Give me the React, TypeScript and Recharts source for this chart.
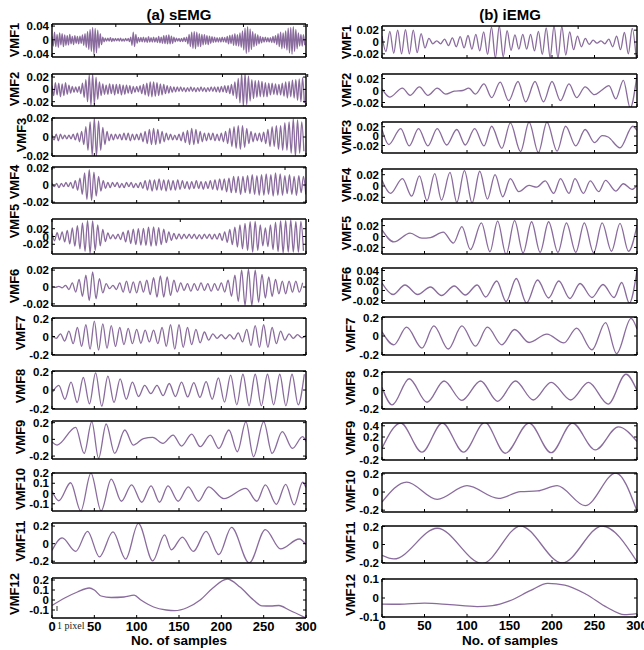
import React from "react";
import { LineChart, Line, XAxis, YAxis } from "recharts";

// ---------- shared axis values ----------
const SAMPLE_TICKS = [0, 50, 100, 150, 200, 250, 300];
const FONT = '"Liberation Sans", Arial, Helvetica, sans-serif';
const TRACE = "#8a6b9d";

// ---------- (a) sEMG : dense modes, successive extrema at a fixed sample spacing ----------
const SEMG_VMF1_STEP = 1.5;
const SEMG_VMF1 = [
  0.01, -0.018, 0.022, -0.02, 0.016, -0.022, 0.02, -0.015, 0.018, -0.02,
  0.014, -0.016, 0.012, -0.015, 0.016, -0.012, 0.01, -0.014, 0.012, -0.01,
  0.01, -0.012, 0.011, -0.01, 0.014, -0.016, 0.018, -0.022, 0.024, -0.028,
  0.03, -0.034, 0.036, -0.042, 0.033, -0.038, 0.028, -0.024, 0.018, -0.014,
  0.008, -0.006, 0.005, -0.004, 0.005, -0.004, 0.006, -0.005, 0.004, -0.004,
  0.004, -0.003, 0.004, -0.004, 0.005, -0.004, 0.003, -0.004, 0.004, -0.003,
  0.004, -0.005, 0.008, -0.016, 0.022, -0.02, 0.016, -0.01, 0.007, -0.006,
  0.007, -0.006, 0.008, -0.007, 0.006, -0.008, 0.009, -0.007, 0.006, -0.007,
  0.008, -0.007, 0.006, -0.008, 0.01, -0.009, 0.008, -0.01, 0.012, -0.011,
  0.013, -0.012, 0.014, -0.012, 0.011, -0.01, 0.008, -0.006, 0.005, -0.004,
  0.004, -0.005, 0.004, -0.005, 0.006, -0.005, 0.008, -0.012, 0.016, -0.02,
  0.022, -0.025, 0.024, -0.026, 0.022, -0.02, 0.018, -0.02, 0.016, -0.015,
  0.015, -0.013, 0.012, -0.014, 0.011, -0.01, 0.009, -0.008, 0.008, -0.007,
  0.006, -0.007, 0.006, -0.007, 0.008, -0.006, 0.007, -0.008, 0.01, -0.012,
  0.013, -0.011, 0.014, -0.016, 0.018, -0.017, 0.015, -0.018, 0.02, -0.022,
  0.026, -0.03, 0.034, -0.04, 0.038, -0.036, 0.032, -0.028, 0.024, -0.02,
  0.018, -0.016, 0.014, -0.012, 0.01, -0.009, 0.008, -0.007, 0.008, -0.006,
  0.006, -0.007, 0.006, -0.008, 0.01, -0.009, 0.012, -0.014, 0.018, -0.02,
  0.022, -0.026, 0.02, -0.024, 0.026, -0.03, 0.034, -0.038, 0.036, -0.042,
  0.038, -0.034, 0.03, -0.026, 0.02, -0.018, 0.016, -0.018, 0.015, -0.016,
];

const SEMG_VMF2_STEP = 2;
const SEMG_VMF2 = [
  0.006, -0.01, 0.011, -0.009, 0.01, -0.012, 0.009, -0.01, 0.011, -0.008,
  0.007, -0.006, 0.005, -0.005, 0.004, -0.005, 0.005, -0.007, 0.01, -0.013,
  0.016, -0.02, 0.024, -0.026, 0.025, -0.024, 0.02, -0.016, 0.012, -0.01,
  0.009, -0.008, 0.007, -0.008, 0.009, -0.007, 0.008, -0.009, 0.008, -0.007,
  0.008, -0.009, 0.007, -0.008, 0.007, -0.006, 0.006, -0.007, 0.005, -0.005,
  0.005, -0.004, 0.006, -0.007, 0.008, -0.009, 0.01, -0.011, 0.012, -0.012,
  0.012, -0.011, 0.011, -0.01, 0.009, -0.009, 0.008, -0.007, 0.006, -0.006,
  0.005, -0.005, 0.004, -0.004, 0.004, -0.003, 0.004, -0.003, 0.003, -0.004,
  0.003, -0.003, 0.004, -0.003, 0.003, -0.004, 0.003, -0.003, 0.004, -0.003,
  0.003, -0.004, 0.003, -0.003, 0.004, -0.003, 0.004, -0.004, 0.004, -0.005,
  0.005, -0.004, 0.006, -0.005, 0.006, -0.007, 0.008, -0.01, 0.012, -0.015,
  0.018, -0.022, 0.025, -0.027, 0.026, -0.025, 0.022, -0.019, 0.016, -0.015,
  0.014, -0.013, 0.014, -0.012, 0.013, -0.012, 0.011, -0.012, 0.01, -0.009,
  0.01, -0.008, 0.009, -0.009, 0.008, -0.009, 0.01, -0.011, 0.012, -0.014,
  0.013, -0.012, 0.015, -0.014, 0.016, -0.018, 0.017, -0.02, 0.019, -0.022,
];

const SEMG_VMF3_STEP = 2.5;
const SEMG_VMF3 = [
  0.002, -0.003, 0.003, -0.004, 0.003, -0.002, 0.002, -0.002, 0.002, -0.002,
  0.003, -0.003, 0.004, -0.005, 0.006, -0.008, 0.011, -0.014, 0.016, -0.019,
  0.02, -0.02, 0.017, -0.014, 0.01, -0.008, 0.006, -0.004, 0.003, -0.003,
  0.003, -0.002, 0.003, -0.003, 0.004, -0.003, 0.004, -0.004, 0.003, -0.003,
  0.003, -0.003, 0.004, -0.005, 0.006, -0.007, 0.008, -0.008, 0.009, -0.008,
  0.008, -0.007, 0.006, -0.005, 0.004, -0.003, 0.003, -0.003, 0.002, -0.003,
  0.003, -0.004, 0.005, -0.006, 0.007, -0.008, 0.009, -0.008, 0.008, -0.007,
  0.006, -0.005, 0.004, -0.004, 0.004, -0.003, 0.004, -0.004, 0.003, -0.004,
  0.004, -0.005, 0.006, -0.007, 0.009, -0.01, 0.011, -0.012, 0.012, -0.013,
  0.012, -0.011, 0.009, -0.007, 0.006, -0.005, 0.004, -0.004, 0.004, -0.005,
  0.005, -0.007, 0.008, -0.01, 0.011, -0.01, 0.012, -0.013, 0.012, -0.014,
  0.015, -0.014, 0.016, -0.017, 0.019, -0.02, 0.018, -0.017, 0.016, -0.015,
];

const SEMG_VMF4_STEP = 2.75;
const SEMG_VMF4 = [
  0.002, -0.002, 0.002, -0.003, 0.002, -0.002, 0.003, -0.002, 0.003, -0.004,
  0.005, -0.006, 0.008, -0.011, 0.014, -0.017, 0.018, -0.018, 0.015, -0.013,
  0.01, -0.007, 0.005, -0.004, 0.003, -0.003, 0.003, -0.002, 0.003, -0.003,
  0.002, -0.003, 0.003, -0.002, 0.003, -0.003, 0.002, -0.003, 0.003, -0.004,
  0.005, -0.006, 0.006, -0.007, 0.006, -0.006, 0.007, -0.006, 0.006, -0.007,
  0.006, -0.006, 0.005, -0.006, 0.006, -0.005, 0.005, -0.004, 0.004, -0.005,
  0.004, -0.004, 0.005, -0.004, 0.004, -0.005, 0.004, -0.004, 0.005, -0.005,
  0.006, -0.006, 0.007, -0.006, 0.007, -0.008, 0.008, -0.009, 0.01, -0.009,
  0.01, -0.011, 0.01, -0.009, 0.011, -0.01, 0.012, -0.011, 0.011, -0.012,
  0.012, -0.012, 0.013, -0.011, 0.012, -0.013, 0.014, -0.012, 0.013, -0.012,
  0.011, -0.01, 0.012, -0.011, 0.01, -0.012, 0.011, -0.009, 0.01, -0.011,
];

const SEMG_VMF5_STEP = 3;
const SEMG_VMF5 = [
  0.008, -0.011, 0.01, -0.009, 0.012, -0.014, 0.016, -0.019, 0.022, -0.025,
  0.028, -0.032, 0.035, -0.038, 0.041, -0.043, 0.04, -0.036, 0.03, -0.024,
  0.018, -0.013, 0.009, -0.006, 0.005, -0.006, 0.006, -0.008, 0.011, -0.014,
  0.016, -0.018, 0.019, -0.021, 0.02, -0.022, 0.021, -0.023, 0.024, -0.025,
  0.025, -0.024, 0.023, -0.021, 0.019, -0.016, 0.012, -0.01, 0.008, -0.007,
  0.007, -0.006, 0.006, -0.005, 0.006, -0.005, 0.006, -0.006, 0.005, -0.006,
  0.006, -0.005, 0.006, -0.007, 0.006, -0.007, 0.008, -0.01, 0.012, -0.015,
  0.018, -0.021, 0.024, -0.027, 0.03, -0.032, 0.034, -0.036, 0.038, -0.04,
  0.039, -0.036, 0.03, -0.024, 0.022, -0.026, 0.03, -0.034, 0.037, -0.039,
  0.04, -0.042, 0.041, -0.04, 0.042, -0.04, 0.038, -0.04, 0.039, -0.037,
];

const SEMG_VMF6_STEP = 4;
const SEMG_VMF6 = [
  0.0005, -0.0005, 0.0008, -0.001, 0.002, -0.003, 0.005, -0.006, 0.009, -0.011,
  0.014, -0.016, 0.018, -0.014, 0.01, -0.007, 0.004, -0.002, 0.002, -0.003,
  0.005, -0.006, 0.007, -0.007, 0.006, -0.007, 0.007, -0.006, 0.008, -0.009,
  0.011, -0.012, 0.013, -0.012, 0.012, -0.01, 0.008, -0.006, 0.005, -0.004,
  0.004, -0.005, 0.004, -0.004, 0.005, -0.004, 0.004, -0.005, 0.004, -0.004,
  0.005, -0.006, 0.008, -0.011, 0.014, -0.017, 0.02, -0.022, 0.021, -0.022,
  0.02, -0.018, 0.015, -0.013, 0.012, -0.011, 0.009, -0.008, 0.007, -0.008,
  0.007, -0.006, 0.007, -0.006, 0.005,
];

const SEMG_VMF7_STEP = 5;
const SEMG_VMF7 = [
  0.005, -0.02, 0.03, -0.05, 0.06, -0.08, 0.1, -0.11, 0.13, -0.14,
  0.17, -0.15, 0.14, -0.13, 0.12, -0.11, 0.1, -0.09, 0.09, -0.08,
  0.08, -0.075, 0.07, -0.06, 0.07, -0.08, 0.1, -0.11, 0.13, -0.14,
  0.13, -0.12, 0.1, -0.09, 0.08, -0.07, 0.05, -0.04, 0.03, -0.02,
  0.02, -0.025, 0.02, -0.03, 0.04, -0.06, 0.08, -0.1, 0.12, -0.12,
  0.13, -0.12, 0.1, -0.08, 0.06, -0.04, 0.03, -0.02, 0.02, -0.015,
  0.01,
];

const SEMG_VMF8_START = 0.75;
const SEMG_VMF8_STEP = 7.25;
const SEMG_VMF8 = [
  -0.02, 0.05, -0.1, 0.085, -0.135, 0.135, -0.15, 0.185, -0.175, 0.15,
  -0.135, 0.12, -0.1, 0.085, -0.07, 0.05, -0.04, 0.05, -0.06, 0.07,
  -0.07, 0.085, -0.075, 0.08, -0.08, 0.09, -0.1, 0.13, -0.13, 0.16,
  -0.16, 0.17, -0.17, 0.17, -0.17, 0.17, -0.16, 0.17, -0.17, 0.17,
  -0.16, 0.17,
];

// ---------- (a) sEMG : slow modes as [sample, value] turning points ----------
const SEMG_VMF9 = [
  [0, -0.03], [6, -0.068], [28, 0.144], [38, -0.168], [47, 0.212], [55, -0.228],
  [64, 0.184], [74, -0.168], [86, 0.112], [96, -0.068], [108, 0.01], [119, 0.024],
  [131, -0.048], [143, 0.052], [153, -0.08], [165, 0.064], [175, -0.088], [187, 0.052],
  [197, -0.108], [209, 0.112], [219, -0.148], [229, 0.212], [238, -0.208], [250, 0.212],
  [260, -0.168], [272, 0.092], [284, -0.108], [296, 0.032], [300, -0.025],
];
const SEMG_VMF10 = [
  [0, 0.025], [8, -0.07], [22, 0.105], [34, -0.17], [46, 0.2], [58, -0.17],
  [70, 0.14], [82, -0.075], [94, 0.085], [106, -0.085], [117, 0.075], [127, -0.085],
  [137, 0.075], [149, -0.075], [161, 0.065], [173, -0.075], [185, 0.065], [203, -0.05],
  [229, 0.05], [242, -0.075], [252, 0.085], [265, -0.105], [276, 0.09], [286, -0.11],
  [296, 0.11], [300, 0.06],
];
const SEMG_VMF11 = [
  [0, -0.076], [12, 0.065], [28, -0.088], [42, 0.14], [56, -0.15], [72, 0.133],
  [87, -0.175], [102, 0.23], [119, -0.195], [133, 0.1], [141, -0.07], [154, 0.075],
  [167, -0.088], [182, 0.14], [197, -0.125], [212, 0.185], [233, -0.22], [252, 0.16],
  [270, -0.06], [292, 0.053], [300, -0.01],
];
const SEMG_VMF12 = [
  [0, -0.055], [15, 0.02], [30, 0.08], [44, 0.12], [50, 0.1], [58, 0.04],
  [70, 0.025], [85, 0.03], [97, 0.048], [105, 0.0], [120, -0.07], [135, -0.1],
  [145, -0.107], [160, -0.075], [175, 0.0], [190, 0.12], [207, 0.21], [222, 0.13],
  [238, 0.0], [248, -0.058], [258, -0.06], [268, -0.055], [280, -0.1], [300, -0.18],
];

// ---------- (b) iEMG ----------
const IEMG_VMF1_STEP = 4.6;
const IEMG_VMF1 = [
  0.01, -0.016, 0.018, -0.019, 0.02, -0.02, 0.021, -0.02, 0.02, -0.018,
  0.014, -0.01, 0.006, -0.003, 0.002, -0.003, 0.005, -0.006, 0.007, -0.008,
  0.009, -0.01, 0.011, -0.012, 0.013, -0.015, 0.017, -0.021, 0.025, -0.027,
  0.027, -0.025, 0.019, -0.014, 0.012, -0.012, 0.013, -0.012, 0.013, -0.015,
  0.018, -0.021, 0.024, -0.026, 0.027, -0.027, 0.026, -0.022, 0.017, -0.013,
  0.01, -0.008, 0.006, -0.004, 0.003, -0.002, 0.002, -0.003, 0.005, -0.008,
  0.01, -0.013, 0.016, -0.02, 0.023, -0.026,
];
const IEMG_VMF2 = [
  [0, 0.003], [9, -0.011], [24, 0.004], [33, -0.008], [44, 0.006], [54, -0.008],
  [65, 0.004], [75, -0.006], [85, -0.001], [95, 0.0], [102, 0.004], [110, -0.006],
  [120, 0.011], [129, -0.012], [139, 0.014], [149, -0.017], [160, 0.015], [169, -0.019],
  [180, 0.015], [190, -0.019], [200, 0.015], [210, -0.017], [220, 0.011], [229, -0.012],
  [239, 0.006], [250, -0.007], [258, 0.0], [267, 0.008], [275, -0.014], [284, 0.017],
  [292, -0.029], [300, 0.026],
];
const IEMG_VMF3 = [
  [0, 0.014], [8, -0.018], [22, 0.016], [32, -0.021], [43, 0.016], [54, -0.021],
  [65, 0.016], [76, -0.019], [88, 0.014], [98, -0.019], [109, 0.016], [120, -0.021],
  [129, 0.021], [141, -0.026], [151, 0.028], [163, -0.033], [173, 0.03], [184, -0.035],
  [194, 0.03], [206, -0.032], [216, 0.021], [228, -0.021], [239, 0.014], [250, -0.014],
  [259, 0.001], [266, -0.002], [280, -0.025], [295, 0.021], [300, 0.012],
];
const IEMG_VMF4 = [
  [0, 0.01], [10, -0.013], [24, 0.013], [35, -0.018], [44, 0.018], [53, -0.026],
  [62, 0.022], [70, -0.025], [80, 0.024], [88, -0.029], [97, 0.027], [106, -0.03],
  [115, 0.026], [124, -0.023], [133, 0.02], [142, -0.019], [151, 0.013], [161, -0.01],
  [173, 0.001], [182, -0.002], [192, 0.009], [202, -0.013], [210, 0.013], [220, -0.013],
  [227, 0.013], [237, -0.013], [245, 0.009], [255, -0.01], [263, 0.01], [275, -0.009],
  [284, 0.004], [294, -0.006], [300, 0.001],
];
const IEMG_VMF5 = [
  [0, 0.012], [14, -0.01], [33, 0.006], [47, -0.003], [57, -0.002], [72, 0.008],
  [84, -0.012], [94, 0.018], [104, -0.024], [117, 0.025], [127, -0.028], [136, 0.028],
  [146, -0.033], [156, 0.029], [166, -0.03], [176, 0.027], [186, -0.029], [196, 0.027],
  [207, -0.029], [217, 0.025], [228, -0.029], [238, 0.025], [249, -0.03], [259, 0.025],
  [270, -0.027], [280, 0.024], [290, -0.027], [300, 0.02],
];
const IEMG_VMF6 = [
  [0, 0.015], [13, -0.008], [27, 0.011], [42, -0.008], [57, 0.007], [70, -0.01],
  [85, 0.009], [98, -0.009], [112, 0.011], [122, -0.013], [135, 0.019], [146, -0.022],
  [158, 0.024], [170, -0.025], [183, 0.021], [196, -0.015], [208, 0.019], [221, -0.016],
  [233, 0.014], [247, -0.014], [260, 0.012], [273, -0.014], [282, 0.016], [291, -0.025],
  [300, 0.04],
];
const IEMG_VMF7 = [
  [0, 0.045], [14, -0.095], [29, 0.095], [47, -0.13], [61, 0.11], [78, -0.14],
  [94, 0.11], [110, -0.11], [124, 0.095], [141, -0.095], [156, 0.07], [173, -0.07],
  [194, 0.02], [214, -0.075], [229, 0.085], [247, -0.15], [263, 0.145], [276, -0.19],
  [293, 0.19], [300, 0.075],
];
const IEMG_VMF8 = [
  [0, 0.035], [12, -0.16], [32, 0.13], [53, -0.13], [73, 0.105], [94, -0.11],
  [116, 0.105], [136, -0.12], [157, 0.105], [178, -0.105], [199, 0.09], [222, -0.105],
  [243, 0.09], [266, -0.15], [287, 0.18], [300, 0.0],
];
const IEMG_VMF9 = [
  [0, 0.0], [22, 0.45], [47, -0.07], [71, 0.45], [96, -0.07], [121, 0.46],
  [145, -0.09], [173, 0.45], [199, -0.08], [224, 0.45], [251, -0.03], [278, 0.38],
  [300, 0.12],
];
const IEMG_VMF10 = [
  [0, -0.11], [29, 0.11], [65, -0.08], [100, 0.07], [137, -0.07], [163, 0.005],
  [183, 0.012], [206, 0.07], [239, -0.15], [275, 0.21], [300, -0.21],
];
const IEMG_VMF11 = [
  [0, -0.12], [14, -0.16], [65, 0.18], [118, -0.21], [163, 0.205], [212, -0.205],
  [259, 0.205], [300, -0.19],
];
const IEMG_VMF12 = [
  [0, -0.032], [20, -0.033], [50, -0.027], [80, -0.035], [112, -0.045], [130, -0.04],
  [150, -0.015], [175, 0.04], [195, 0.077], [215, 0.068], [240, 0.02], [265, -0.05],
  [285, -0.088], [300, -0.082],
];

// ---------- row builders ----------
type Row = { s: number; v: number };
const evenlySpaced = (start: number, step: number, values: number[]): Row[] =>
  values.map((v, i) => ({ s: start + i * step, v }));
const turningPoints = (pairs: number[][]): Row[] => pairs.map(([s, v]) => ({ s, v }));

type Mode = { label: string; rows: Row[]; yDomain: [number, number]; yTicks: number[] };

const SEMG_MODES: Mode[] = [
  { label: "VMF1", rows: evenlySpaced(0, SEMG_VMF1_STEP, SEMG_VMF1), yDomain: [-0.05, 0.046], yTicks: [-0.04, 0, 0.04] },
  { label: "VMF2", rows: evenlySpaced(0, SEMG_VMF2_STEP, SEMG_VMF2), yDomain: [-0.027, 0.025], yTicks: [-0.02, 0, 0.02] },
  { label: "VMF3", rows: evenlySpaced(0, SEMG_VMF3_STEP, SEMG_VMF3), yDomain: [-0.02, 0.02], yTicks: [-0.02, 0, 0.02] },
  { label: "VMF4", rows: evenlySpaced(0, SEMG_VMF4_STEP, SEMG_VMF4), yDomain: [-0.021, 0.021], yTicks: [-0.02, 0, 0.02] },
  { label: "VMF5", rows: evenlySpaced(0, SEMG_VMF5_STEP, SEMG_VMF5), yDomain: [-0.045, 0.045], yTicks: [-0.02, 0, 0.02] },
  { label: "VMF6", rows: evenlySpaced(0, SEMG_VMF6_STEP, SEMG_VMF6), yDomain: [-0.0225, 0.0225], yTicks: [-0.02, 0, 0.02] },
  { label: "VMF7", rows: evenlySpaced(0, SEMG_VMF7_STEP, SEMG_VMF7), yDomain: [-0.205, 0.205], yTicks: [-0.2, 0, 0.2] },
  { label: "VMF8", rows: evenlySpaced(SEMG_VMF8_START, SEMG_VMF8_STEP, SEMG_VMF8), yDomain: [-0.205, 0.205], yTicks: [-0.2, 0, 0.2] },
  { label: "VMF9", rows: turningPoints(SEMG_VMF9), yDomain: [-0.235, 0.22], yTicks: [-0.2, 0, 0.2] },
  { label: "VMF10", rows: turningPoints(SEMG_VMF10), yDomain: [-0.17, 0.2], yTicks: [-0.1, 0, 0.1, 0.2] },
  { label: "VMF11", rows: turningPoints(SEMG_VMF11), yDomain: [-0.22, 0.235], yTicks: [-0.2, 0, 0.2] },
  { label: "VMF12", rows: turningPoints(SEMG_VMF12), yDomain: [-0.18, 0.22], yTicks: [-0.1, 0, 0.1, 0.2] },
];

const IEMG_MODES: Mode[] = [
  { label: "VMF1", rows: evenlySpaced(0, IEMG_VMF1_STEP, IEMG_VMF1), yDomain: [-0.027, 0.027], yTicks: [-0.02, 0, 0.02] },
  { label: "VMF2", rows: turningPoints(IEMG_VMF2), yDomain: [-0.0275, 0.0275], yTicks: [-0.02, 0, 0.02] },
  { label: "VMF3", rows: turningPoints(IEMG_VMF3), yDomain: [-0.036, 0.03], yTicks: [-0.02, 0, 0.02] },
  { label: "VMF4", rows: turningPoints(IEMG_VMF4), yDomain: [-0.03, 0.03], yTicks: [-0.02, 0, 0.02] },
  { label: "VMF5", rows: turningPoints(IEMG_VMF5), yDomain: [-0.032, 0.032], yTicks: [-0.02, 0, 0.02] },
  { label: "VMF6", rows: turningPoints(IEMG_VMF6), yDomain: [-0.025, 0.045], yTicks: [-0.02, 0, 0.02, 0.04] },
  { label: "VMF7", rows: turningPoints(IEMG_VMF7), yDomain: [-0.205, 0.205], yTicks: [-0.2, 0, 0.2] },
  { label: "VMF8", rows: turningPoints(IEMG_VMF8), yDomain: [-0.205, 0.205], yTicks: [-0.2, 0, 0.2] },
  { label: "VMF9", rows: turningPoints(IEMG_VMF9), yDomain: [-0.21, 0.45], yTicks: [-0.2, 0, 0.2, 0.4] },
  { label: "VMF10", rows: turningPoints(IEMG_VMF10), yDomain: [-0.22, 0.21], yTicks: [-0.2, 0, 0.2] },
  { label: "VMF11", rows: turningPoints(IEMG_VMF11), yDomain: [-0.205, 0.205], yTicks: [-0.2, 0, 0.2] },
  { label: "VMF12", rows: turningPoints(IEMG_VMF12), yDomain: [-0.1, 0.1], yTicks: [-0.1, 0, 0.1] },
];

// ---------- page layout (pixels) ----------
const LEFT_COLUMN = { left: 52, right: 306, center: 179, title: "(a) sEMG" };
const RIGHT_COLUMN = { left: 382, right: 637, center: 510, title: "(b) iEMG" };
const SEMG_ROWS = [
  [24, 57], [74, 106], [118, 156], [167, 203], [219, 254], [268, 306],
  [318, 355], [371, 409], [421, 459], [473, 511], [523, 563], [578, 618],
];
const IEMG_ROWS = [
  [26, 58], [74, 107], [122, 153], [169, 203], [219, 254], [268, 303],
  [317, 355], [372, 409], [423, 460], [473, 512], [526, 563], [579, 617],
];
const SEMG_LABEL_AT = [
  [14, 40], [14, 89], [21, 135], [14, 182], [14, 221], [14, 286],
  [20, 333], [20, 386], [20, 437], [20, 489], [20, 541], [14, 594],
];
const IEMG_LABEL_AT = [
  [346, 42], [346, 90], [346, 137], [346, 185], [346, 233], [346, 284],
  [350, 335], [350, 388], [350, 438], [350, 491], [350, 542], [350, 595],
];

const Y_AXIS_W = 60;
const RIGHT_PAD = 14;
const V_PAD = 9;
const noTick = () => <g />;
const fmt = (v: number) => String(v);

function Panel({ mode, left, right, top, bottom, showX }: {
  mode: Mode; left: number; right: number; top: number; bottom: number; showX: boolean;
}) {
  const plotW = right - left;
  const plotH = bottom - top;
  const bottomH = showX ? 26 : 1;
  const width = Y_AXIS_W + plotW + 1 + RIGHT_PAD;
  const height = V_PAD + 1 + plotH + bottomH + V_PAD;
  const frame = { stroke: "#000", strokeWidth: 1.4 };
  const tickLine = { stroke: "#000", strokeWidth: 1 };
  return (
    <div style={{ position: "absolute", left: left - Y_AXIS_W, top: top - V_PAD - 1 }}>
      <LineChart width={width} height={height} data={mode.rows}
        margin={{ top: V_PAD, right: RIGHT_PAD, bottom: V_PAD, left: 0 }}>
        <XAxis xAxisId="b" dataKey="s" type="number" domain={[0, 300]} allowDataOverflow
          ticks={SAMPLE_TICKS} interval={0} height={bottomH} tickSize={-3} tickMargin={7}
          axisLine={frame} tickLine={tickLine}
          tick={showX ? { fontSize: 13, fontWeight: 700, fill: "#000", fontFamily: FONT } : noTick} />
        <XAxis xAxisId="t" orientation="top" type="number" domain={[0, 300]} allowDataOverflow
          ticks={SAMPLE_TICKS} interval={0} height={1} tickSize={-3}
          axisLine={frame} tickLine={tickLine} tick={noTick} />
        <YAxis yAxisId="l" type="number" domain={mode.yDomain} allowDataOverflow
          ticks={mode.yTicks} interval={0} width={Y_AXIS_W} tickSize={-3} tickMargin={6}
          axisLine={frame} tickLine={tickLine} tickFormatter={fmt}
          tick={{ fontSize: 11.5, fontWeight: 700, fill: "#000", fontFamily: FONT }} />
        <YAxis yAxisId="r" orientation="right" type="number" domain={mode.yDomain} allowDataOverflow
          ticks={mode.yTicks} interval={0} width={1} tickSize={-3}
          axisLine={frame} tickLine={tickLine} tick={noTick} />
        <Line xAxisId="b" yAxisId="l" type="monotone" dataKey="v" stroke={TRACE}
          strokeWidth={1.3} dot={false} activeDot={false} isAnimationActive={false} />
      </LineChart>
    </div>
  );
}

function Column({ modes, rows, col }: { modes: Mode[]; rows: number[][]; col: typeof LEFT_COLUMN }) {
  return (
    <>
      {modes.map((m, i) => (
        <Panel key={m.label} mode={m} left={col.left} right={col.right}
          top={rows[i][0]} bottom={rows[i][1]} showX={i === modes.length - 1} />
      ))}
    </>
  );
}

export default function App() {
  const labelStyle = { fontFamily: FONT, fontWeight: 700, fill: "#000" };
  return (
    <div style={{ position: "absolute", left: 0, top: 0, width: 644, height: 650, background: "#fff", overflow: "hidden" }}>
      <Column modes={SEMG_MODES} rows={SEMG_ROWS} col={LEFT_COLUMN} />
      <Column modes={IEMG_MODES} rows={IEMG_ROWS} col={RIGHT_COLUMN} />
      <svg width={644} height={650} style={{ position: "absolute", left: 0, top: 0, pointerEvents: "none" }}>
        <text x={LEFT_COLUMN.center} y={20} textAnchor="middle" fontSize={15} {...labelStyle}>{LEFT_COLUMN.title}</text>
        <text x={RIGHT_COLUMN.center} y={20} textAnchor="middle" fontSize={15} {...labelStyle}>{RIGHT_COLUMN.title}</text>
        {SEMG_MODES.map((m, i) => (
          <text key={"a" + m.label} x={SEMG_LABEL_AT[i][0]} y={SEMG_LABEL_AT[i][1]} textAnchor="middle"
            dominantBaseline="central" fontSize={13} {...labelStyle}
            transform={`rotate(-90 ${SEMG_LABEL_AT[i][0]} ${SEMG_LABEL_AT[i][1]})`}>{m.label}</text>
        ))}
        {IEMG_MODES.map((m, i) => (
          <text key={"b" + m.label} x={IEMG_LABEL_AT[i][0]} y={IEMG_LABEL_AT[i][1]} textAnchor="middle"
            dominantBaseline="central" fontSize={13} {...labelStyle}
            transform={`rotate(-90 ${IEMG_LABEL_AT[i][0]} ${IEMG_LABEL_AT[i][1]})`}>{m.label}</text>
        ))}
        <text x={LEFT_COLUMN.center} y={645} textAnchor="middle" fontSize={13.5} {...labelStyle}>No. of samples</text>
        <text x={RIGHT_COLUMN.center} y={645} textAnchor="middle" fontSize={13.5} {...labelStyle}>No. of samples</text>
        <line x1={57} y1={606} x2={57} y2={611} stroke="#333" strokeWidth={1} />
        <text x={57} y={629} fontSize={10} fontFamily='"Liberation Serif", "Times New Roman", serif' fill="#222">1 pixel</text>
      </svg>
    </div>
  );
}
